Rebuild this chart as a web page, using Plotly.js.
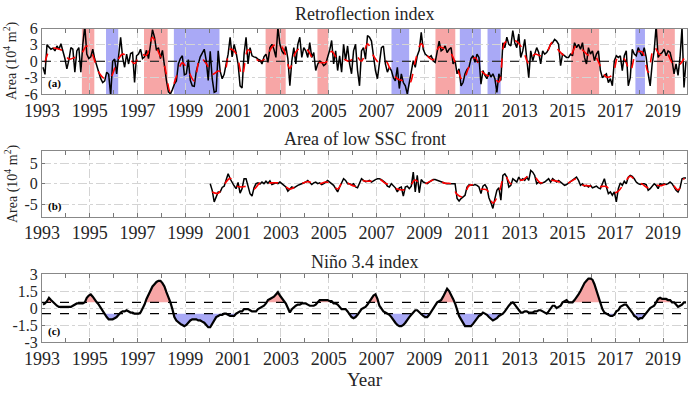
<!DOCTYPE html>
<html><head><meta charset="utf-8">
<script src="https://cdn.plot.ly/plotly-3.0.1.min.js"></script>
<style>html,body{margin:0;padding:0;background:#fff}#chart{width:700px;height:394px}</style>
</head><body><div id="chart"></div>
<script>
// ---------- DATA ----------
const startYear = 1993;
// (a) Retroflection index, monthly 1993-01 .. 2019-12 (10^4 m^2)
const retroIndex = [
 -1.1,-2.4,3.0,2.6,2.2,2.4,1.9,2.8,2.2,3.2,1.9,0.5,
 -1.4,0.2,2.5,2.2,-2.0,1.9,2.5,-2.0,3.1,6.5,1.3,0.5,
 0.8,2.2,0.4,-0.8,-2.0,-3.2,-3.9,-3.6,-2.0,-2.4,-6.3,0.0,
 0.4,-2.3,1.0,4.4,0.7,-1.1,1.3,-0.5,1.4,1.6,-3.9,1.0,
 1.3,2.2,0.5,0.8,2.0,0.5,3.0,5.8,4.4,2.0,2.5,0.5,
 2.0,-1.0,-3.5,-5.6,-6.0,-5.2,-4.2,-3.6,-0.5,0.5,1.0,-2.5,
 -2.3,0.3,-3.5,-4.5,-4.6,-1.8,-0.5,0.8,1.5,2.2,0.1,-3.5,
 1.8,-3.2,-5.7,-5.5,1.9,-1.8,-3.2,-2.4,-0.5,1.3,4.4,0.8,
 3.1,1.6,-0.5,-4.5,-4.9,1.3,4.4,-0.5,2.5,1.0,0.8,0.7,
 0.4,0.2,-0.5,0.8,1.3,-0.2,2.5,3.1,2.2,0.7,6.2,3.1,
 1.9,1.3,2.7,0.5,-4.5,0.1,2.5,-0.5,3.1,4.4,0.7,2.5,
 1.9,0.7,3.4,0.7,1.6,-1.7,-0.5,0.0,-0.2,-0.8,-0.5,0.7,
 2.0,3.8,-0.5,1.9,-1.7,1.0,-2.0,3.1,0.1,2.8,-0.5,-2.3,
 1.9,3.1,-1.7,-4.5,1.9,2.5,0.4,4.7,4.4,3.7,1.0,-1.7,
 -3.2,-0.2,2.5,2.8,-0.5,-2.0,-1.1,-1.7,-3.0,-3.6,-1.1,-5.0,
 -2.3,-3.9,-4.5,-6.0,-3.9,-2.3,0.1,-1.1,1.0,2.0,5.3,2.2,
 1.3,1.0,0.7,1.0,0.1,-0.2,2.2,3.7,1.9,2.2,2.8,1.6,
 2.2,2.5,-0.5,0.1,-2.3,-1.4,-4.5,-3.9,-2.3,-1.5,-1.1,0.5,
 1.0,-0.2,1.3,0.7,-4.2,-1.7,-2.6,-3.2,-2.0,-2.9,-2.3,-3.2,
 -5.7,-2.3,-3.5,3.4,2.5,4.4,3.1,2.8,5.6,3.4,2.5,5.0,
 0.7,1.9,4.0,-0.2,-3.0,1.9,0.1,1.3,2.5,1.6,-0.5,1.9,
 1.3,1.6,2.2,3.1,3.4,4.0,3.7,3.1,-0.8,1.3,1.0,0.7,
 0.7,1.3,1.0,3.4,2.5,3.1,2.2,3.4,0.7,-0.5,2.5,1.3,
 1.9,0.1,1.3,1.9,-1.7,-3.0,-2.6,-2.3,-3.9,-3.2,-4.5,0.1,
 1.0,0.7,1.0,-1.7,1.0,1.9,-4.5,-3.0,2.2,1.3,1.0,2.5,
 1.6,1.0,2.5,0.7,-2.3,-4.5,-0.5,1.9,6.5,0.7,1.3,1.6,
 2.2,1.0,1.9,1.6,0.1,-2.3,-0.5,-2.6,0.7,6.2,-4.8,0.1
];
// (a) smoothed retroflection index (red dashed), one value per quarter
const retroSmooth = [
 -0.2,2.4,2.3,1.9, 0.4,0.7,1.2,2.8, 1.1,-2.0,-3.2,-2.9, -0.3,1.3,0.7,-0.4,
 1.3,1.1,4.4,1.7, -0.8,-5.6,-2.8,-0.3, -1.8,-3.6,0.6,-0.4, -2.4,-1.8,-2.0,2.2,
 1.4,-2.7,2.1,0.8, 0.0,0.6,2.6,3.3, 2.0,-1.3,1.7,2.5, 2.0,0.2,-0.2,-0.2,
 1.8,0.4,0.4,0.0, 1.1,0.0,3.2,1.0, -0.3,0.1,-1.9,-3.2, -3.6,-4.1,0.0,3.2,
 1.0,0.3,2.6,2.2, 1.4,-1.2,-3.6,-1.0, 0.7,-1.7,-2.6,-2.8, -3.8,3.4,3.8,3.6,
 2.2,-0.4,1.3,1.0, 1.7,3.5,2.0,1.0, 1.0,3.0,2.1,1.1, 1.1,-0.9,-2.9,-2.5,
 0.9,0.4,-1.8,1.6, 1.7,-2.0,2.6,1.2, 1.7,-0.2,-0.8,0.5
];
// (b) Area of low SSC front, monthly 2000-01 .. 2019-12
const sscStartYear = 2000;
const sscFront = [
 0.0,-1.6,-4.4,-3.0,-2.0,-2.0,-0.9,-0.6,0.8,2.4,1.2,0.2,
 -0.5,-1.2,0.3,-2.3,-1.2,1.2,1.2,-0.6,-2.4,-3.0,-1.0,0.0,
 0.2,-0.1,0.4,0.0,0.6,0.1,0.7,-0.2,0.0,0.2,0.0,0.4,
 0.0,-0.3,-0.8,-1.8,-1.2,-0.8,-1.0,-0.6,-0.4,-0.2,0.0,0.2,
 0.4,0.8,0.4,-0.2,0.2,0.4,0.0,0.2,-0.2,0.0,0.4,0.8,
 0.4,0.0,-0.4,-1.2,-2.0,-0.8,0.4,1.2,0.8,0.0,0.0,-0.3,
 0.0,-0.8,-1.0,0.0,1.2,0.8,0.5,0.6,0.8,0.4,0.8,1.0,
 1.2,1.2,1.0,0.7,0.2,-0.6,-0.8,0.0,-0.4,-1.0,-2.0,-1.0,
 -0.8,-3.0,-0.8,-0.6,-1.2,-0.6,2.8,-2.0,2.0,-2.2,1.0,0.4,
 0.2,0.0,0.4,0.8,1.0,1.0,0.8,0.6,0.4,0.2,0.1,0.0,
 0.0,0.0,0.1,0.0,-3.6,-4.2,-3.6,-3.2,-2.8,-0.8,-0.3,-0.4,
 -0.4,-0.2,-0.4,-0.8,-2.4,-0.6,-0.2,-1.0,-3.4,-4.6,-6.0,-3.6,
 -1.6,-1.0,-4.0,2.0,2.4,1.6,-0.8,-0.4,1.2,0.8,0.4,1.6,
 0.8,1.2,0.8,1.6,0.8,3.2,2.8,2.0,0.0,0.4,0.0,0.2,
 0.4,0.8,1.2,0.4,1.2,0.8,0.4,0.8,0.4,0.0,-0.4,-0.2,
 0.2,0.4,0.8,1.2,1.6,0.8,-0.4,0.0,-0.6,-0.4,-0.8,-0.4,
 -1.0,-0.8,-0.6,-1.0,-1.2,0.0,1.2,-0.8,-2.4,-2.0,-2.8,-2.0,
 -4.4,-1.2,0.2,-0.4,0.6,0.0,1.6,2.0,1.8,1.2,0.4,0.0,
 -0.2,0.0,0.0,-0.2,-1.6,-1.2,-0.6,0.0,-0.4,-1.2,0.0,-0.2,
 0.0,-0.2,0.0,0.4,0.0,-0.8,-1.6,-2.0,-1.0,1.2,1.4,1.4
];
// (b) smoothed SSC-front area (red dashed), one value per quarter
const sscSmooth = [
 -2.0,-2.3,-0.2,1.3, -0.5,-0.8,-0.6,-1.3, 0.2,0.2,0.2,0.2, -0.4,-1.3,-0.7,0.0,
 0.5,0.1,0.0,0.4, 0.0,-1.3,0.8,-0.1, -0.6,0.7,0.6,0.7, 1.1,0.1,-0.4,-1.3,
 -1.5,-0.8,0.9,-0.3, 0.2,0.9,0.6,0.1, 0.0,-2.6,-3.2,-0.5, -0.3,-1.3,-1.5,-4.7,
 -2.2,2.0,0.0,0.9, 0.9,1.9,1.6,0.2, 0.8,0.8,0.5,-0.2, 0.5,1.2,-0.3,-0.5,
 -0.8,-0.7,-0.7,-2.3, -1.8,0.1,1.8,0.5, -0.1,-1.0,-0.3,-0.5, -0.1,-0.1,-1.5,1.3
];
// (c) Niño 3.4 index, monthly 1993-01 .. 2019-12
const nino34 = [
 0.3,0.4,0.6,0.9,0.7,0.5,0.3,0.2,0.1,0.1,0.1,0.1,
 0.1,0.1,0.1,0.2,0.3,0.4,0.4,0.4,0.4,0.5,0.9,1.1,
 1.2,1.0,0.7,0.5,0.3,0.0,-0.2,-0.5,-0.8,-1.0,-1.0,-1.0,
 -0.9,-0.8,-0.6,-0.4,-0.3,-0.3,-0.2,-0.3,-0.4,-0.4,-0.5,-0.5,
 -0.5,-0.4,-0.1,0.3,0.8,1.2,1.6,1.9,2.1,2.3,2.4,2.4,
 2.2,1.9,1.4,1.0,0.5,-0.1,-0.8,-1.1,-1.3,-1.4,-1.5,-1.6,
 -1.5,-1.3,-1.1,-1.0,-1.0,-1.0,-1.1,-1.1,-1.2,-1.3,-1.5,-1.7,
 -1.7,-1.4,-1.1,-0.8,-0.7,-0.6,-0.6,-0.5,-0.5,-0.6,-0.7,-0.7,
 -0.7,-0.5,-0.4,-0.3,-0.3,-0.1,-0.1,-0.1,-0.2,-0.3,-0.3,-0.3,
 -0.1,0.0,0.1,0.2,0.4,0.7,0.8,0.9,1.0,1.2,1.4,1.1,
 0.9,0.6,0.4,0.0,-0.4,-0.1,0.1,0.2,0.3,0.3,0.4,0.4,
 0.4,0.3,0.2,0.2,0.2,0.3,0.5,0.7,0.7,0.7,0.7,0.7,
 0.6,0.6,0.4,0.4,0.3,0.1,-0.1,-0.1,-0.1,-0.3,-0.6,-0.8,
 -0.9,-0.8,-0.6,-0.4,-0.1,0.0,0.1,0.3,0.6,0.9,1.1,1.2,
 0.8,0.2,-0.1,-0.3,-0.4,-0.5,-0.6,-0.8,-1.1,-1.3,-1.5,-1.6,
 -1.6,-1.5,-1.3,-1.0,-0.8,-0.6,-0.4,-0.2,-0.2,-0.4,-0.6,-0.7,
 -0.8,-0.8,-0.6,-0.3,0.0,0.3,0.5,0.6,0.7,1.0,1.4,1.7,
 1.5,1.2,0.8,0.4,-0.2,-0.7,-1.0,-1.3,-1.6,-1.6,-1.6,-1.6,
 -1.4,-1.2,-0.9,-0.7,-0.6,-0.4,-0.5,-0.6,-0.8,-1.0,-1.1,-1.0,
 -0.9,-0.7,-0.6,-0.5,-0.3,0.0,0.2,0.4,0.5,0.3,0.1,-0.2,
 -0.4,-0.4,-0.3,-0.3,-0.4,-0.4,-0.4,-0.3,-0.3,-0.2,-0.2,-0.3,
 -0.4,-0.5,-0.3,0.0,0.2,0.2,0.0,0.1,0.2,0.5,0.6,0.7,
 0.5,0.5,0.5,0.7,0.9,1.2,1.5,1.9,2.2,2.4,2.6,2.6,
 2.5,2.1,1.6,0.9,0.4,-0.1,-0.4,-0.5,-0.6,-0.7,-0.7,-0.6,
 -0.3,-0.2,0.1,0.2,0.3,0.3,0.1,-0.1,-0.4,-0.7,-0.8,-1.0,
 -0.9,-0.9,-0.7,-0.5,-0.2,0.0,0.1,0.2,0.5,0.8,0.9,0.8,
 0.8,0.8,0.7,0.7,0.5,0.5,0.3,0.1,0.2,0.3,0.5,0.5
];
// ENSO event periods shaded in panel (a)
const elNinoStart = [1994.67, 1997.27, 2002.36, 2004.53, 2009.47, 2015.15, 2018.74];
const elNinoEnd   = [1995.19, 1998.26, 2003.20, 2004.98, 2010.30, 2016.32, 2019.49];
const laNinaStart = [1995.68, 1998.52, 2007.63, 2010.49, 2011.65, 2017.84];
const laNinaEnd   = [1996.19, 2000.43, 2008.37, 2011.37, 2012.20, 2018.24];
const ninoThreshold = 0.5;
const xTickYears = [1993,1995,1997,1999,2001,2003,2005,2007,2009,2011,2013,2015,2017,2019];

// ---------- HELPERS ----------
function monthlyX(y0, n){ const a=[]; for(let i=0;i<n;i++) a.push(y0+(i+0.5)/12); return a; }
function quarterlyX(y0, n){ const a=[]; for(let i=0;i<n;i++) a.push(y0+(3*i+1.5)/12); return a; }
function clipPoly(x, y, thr, above){
  const xs=[], ys=[];
  for(let i=0;i<x.length;i++){
    if(i>0){
      const a=y[i-1]-thr, b=y[i]-thr;
      if(a*b<0){ const t=a/(a-b); xs.push(x[i-1]+t*(x[i]-x[i-1])); ys.push(thr); }
    }
    xs.push(x[i]); ys.push(above?Math.max(y[i],thr):Math.min(y[i],thr));
  }
  return {x: xs.concat([xs[xs.length-1], xs[0]]), y: ys.concat([thr,thr])};
}

const xRetro = monthlyX(startYear, retroIndex.length);
const xRetroS = quarterlyX(startYear, retroSmooth.length);
const xSsc = monthlyX(sscStartYear, sscFront.length);
const xSscS = quarterlyX(sscStartYear, sscSmooth.length);
const xNino = monthlyX(startYear, nino34.length);

const RED='#f7a6a6', BLUE='#a9a9f6';
const posFill = clipPoly(xNino, nino34, ninoThreshold, true);
const negFill = clipPoly(xNino, nino34, -ninoThreshold, false);

const traces = [
  {x:xRetro, y:retroIndex, xaxis:'x', yaxis:'y', type:'scatter', mode:'lines', line:{color:'#000', width:1.5}},
  {x:xRetroS, y:retroSmooth, xaxis:'x', yaxis:'y', type:'scatter', mode:'lines', line:{color:'#ff0000', width:1.6, dash:'dash', shape:'spline'}},
  {x:xSsc, y:sscFront, xaxis:'x2', yaxis:'y2', type:'scatter', mode:'lines', line:{color:'#000', width:1.5}},
  {x:xSscS, y:sscSmooth, xaxis:'x2', yaxis:'y2', type:'scatter', mode:'lines', line:{color:'#ff0000', width:1.6, dash:'dash', shape:'spline'}},
  {x:posFill.x, y:posFill.y, xaxis:'x3', yaxis:'y3', type:'scatter', mode:'lines', fill:'toself', fillcolor:RED, line:{width:0}},
  {x:negFill.x, y:negFill.y, xaxis:'x3', yaxis:'y3', type:'scatter', mode:'lines', fill:'toself', fillcolor:BLUE, line:{width:0}},
  {x:xNino, y:nino34, xaxis:'x3', yaxis:'y3', type:'scatter', mode:'lines', line:{color:'#000', width:2.2}}
];

const FONT='Liberation Serif';
const xTickFont={family:FONT, size:18, color:'#262626'};
const yTickFont={family:FONT, size:16, color:'#262626'};
function xAx(anchor){
  return {anchor:anchor, range:[1993,2020], tickmode:'array', tickvals:xTickYears, ticktext:xTickYears.map(String),
    ticks:'inside', ticklen:4, tickcolor:'#777', showline:true, linecolor:'#888', linewidth:1, mirror:'allticks',
    showgrid:true, gridcolor:'#d4d4d4', griddash:'dashdot', gridwidth:1, zeroline:false, tickfont:xTickFont,
    minor:{dtick:1, tick0:1993, ticks:'inside', ticklen:4, tickcolor:'#777', showgrid:false}};
}
function yAx(dom, rng, tv, tt, anchor){
  return {domain:dom, anchor:anchor, range:rng, tickmode:'array', tickvals:tv, ticktext:tt,
    ticks:'inside', ticklen:3, tickcolor:'#777', showline:true, linecolor:'#888', linewidth:1, mirror:'allticks',
    showgrid:true, gridcolor:'#d4d4d4', griddash:'dashdot', zeroline:false, tickfont:yTickFont};
}

const shapes=[];
for(let i=0;i<elNinoStart.length;i++) shapes.push({type:'rect', xref:'x', yref:'y domain', x0:elNinoStart[i], x1:elNinoEnd[i], y0:0, y1:1, fillcolor:RED, line:{width:0}, layer:'below'});
for(let i=0;i<laNinaStart.length;i++) shapes.push({type:'rect', xref:'x', yref:'y domain', x0:laNinaStart[i], x1:laNinaEnd[i], y0:0, y1:1, fillcolor:BLUE, line:{width:0}, layer:'below'});
shapes.push({type:'line', xref:'x domain', yref:'y', x0:0, x1:1, y0:0, y1:0, line:{color:'#000', width:1.2, dash:'dash'}});
shapes.push({type:'line', xref:'x3 domain', yref:'y3', x0:0, x1:1, y0:ninoThreshold, y1:ninoThreshold, line:{color:'#000', width:1.3, dash:'dash'}});
shapes.push({type:'line', xref:'x3 domain', yref:'y3', x0:0, x1:1, y0:-ninoThreshold, y1:-ninoThreshold, line:{color:'#000', width:1.3, dash:'dash'}});

const H=394;
const annFont={family:FONT, size:18, color:'#262626'};
const annotations=[
  {text:'Retroflection index', xref:'paper', yref:'paper', x:0.5, y:1-14/H, xanchor:'center', yanchor:'middle', showarrow:false, font:annFont},
  {text:'Area of low SSC front', xref:'paper', yref:'paper', x:0.5, y:1-139/H, xanchor:'center', yanchor:'middle', showarrow:false, font:annFont},
  {text:'Niño 3.4 index', xref:'paper', yref:'paper', x:0.5, y:1-262/H, xanchor:'center', yanchor:'middle', showarrow:false, font:annFont},
  {text:'Year', xref:'paper', yref:'paper', x:0.5, y:1-379/H, xanchor:'center', yanchor:'middle', showarrow:false, font:{family:FONT, size:19, color:'#262626'}},
  {text:'Area (10<sup>4</sup> m<sup>2</sup>)', xref:'paper', yref:'paper', x:(11-42)/645, y:1-61/H, xanchor:'center', yanchor:'middle', textangle:-90, showarrow:false, font:{family:FONT, size:14, color:'#262626'}},
  {text:'Area (10<sup>4</sup> m<sup>2</sup>)', xref:'paper', yref:'paper', x:(11-42)/645, y:1-184/H, xanchor:'center', yanchor:'middle', textangle:-90, showarrow:false, font:{family:FONT, size:14, color:'#262626'}},
  {text:'<b>(a)</b>', xref:'x domain', yref:'y domain', x:0.006, y:0.03, xanchor:'left', yanchor:'bottom', showarrow:false, font:{family:FONT, size:11, color:'#000'}},
  {text:'<b>(b)</b>', xref:'x2 domain', yref:'y2 domain', x:0.006, y:0.03, xanchor:'left', yanchor:'bottom', showarrow:false, font:{family:FONT, size:11, color:'#000'}},
  {text:'<b>(c)</b>', xref:'x3 domain', yref:'y3 domain', x:0.006, y:0.03, xanchor:'left', yanchor:'bottom', showarrow:false, font:{family:FONT, size:11, color:'#000'}}
];

const layout={
  width:700, height:394, margin:{l:42, r:13, t:0, b:0}, showlegend:false,
  paper_bgcolor:'#fff', plot_bgcolor:'#fff', font:{family:FONT},
  xaxis:xAx('y'), xaxis2:xAx('y2'), xaxis3:xAx('y3'),
  yaxis:yAx([1-94/H, 1-28.5/H], [-6,6], [-6,-3,0,3,6], ['-6','-3','0','3','6'], 'x'),
  yaxis2:yAx([1-216.7/H, 1-150.7/H], [-8,8], [-5,0,5], ['-5','0','5'], 'x2'),
  yaxis3:yAx([1-342/H, 1-274/H], [-3,3], [-3,-1.5,0,1.5,3], ['-3','-1.5','0','1.5','3'], 'x3'),
  shapes:shapes, annotations:annotations
};
Plotly.newPlot('chart', traces, layout, {staticPlot:true, displayModeBar:false});
</script></body></html>
